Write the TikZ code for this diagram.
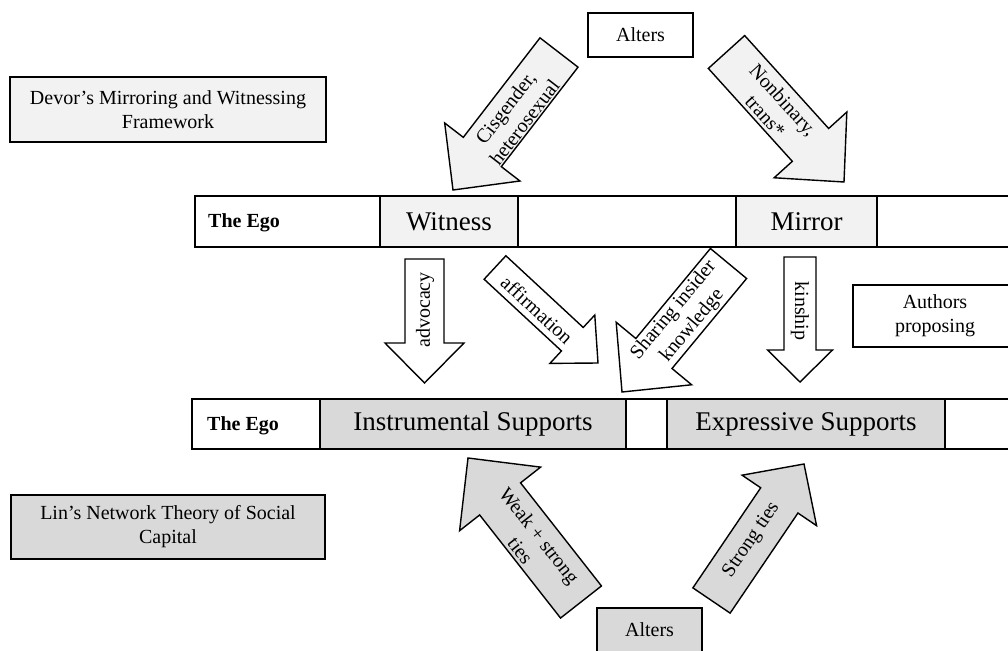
\documentclass[tikz,border=0pt]{standalone}
\usepackage{fontspec}
\setmainfont{Liberation Serif}
\usetikzlibrary{calc}
\definecolor{lightfill}{HTML}{F2F2F2}
\definecolor{midfill}{HTML}{D9D9D9}
\newcommand\txtS{\fontsize{20}{24}\selectfont}
\newcommand\txtL{\fontsize{27}{32}\selectfont}
% #1 name, #2 style, #3 tail, #4 tip, #5 shaft half width, #6 head half width, #7 head length
\newcommand\blockarr[7]{%
  \coordinate (#1-t) at #3;
  \coordinate (#1-p) at #4;
  \coordinate (#1-b) at ($(#1-p)!#7!(#1-t)$);
  \draw[#2] ($(#1-t)!#5!90:(#1-p)$) -- ($(#1-b)!#5!90:(#1-p)$) -- ($(#1-b)!#6!90:(#1-p)$) -- (#1-p)
     -- ($(#1-b)!#6!-90:(#1-p)$) -- ($(#1-b)!#5!-90:(#1-p)$) -- ($(#1-t)!#5!-90:(#1-p)$) -- cycle;
}
\begin{document}
\begin{tikzpicture}[x=1pt,y=-1pt,
  box/.style={draw, line width=1.4pt, inner sep=0pt, align=center, font=\txtS},
  bigbox/.style={box, font=\txtL},
  arr/.style={draw, line width=1.4pt, line join=miter},
  albl/.style={font=\txtS, align=center, inner sep=0pt},
  egotext/.style={font=\txtS\bfseries, inner sep=0pt, anchor=west}]
\useasboundingbox (0,0) rectangle (1008,650);

% framework labels
\node[box, fill=lightfill, minimum width=316pt, minimum height=65pt] (devor) at (168,109.5)
  {Devor’s Mirroring and Witnessing\\Framework};
\node[box, fill=midfill, minimum width=314pt, minimum height=64pt] (lin) at (168,527)
  {Lin’s Network Theory of Social\\Capital};
\node[box, fill=white, minimum width=164pt, minimum height=62pt] (authors) at (935,316)
  {Authors\\proposing};

% alters
\node[box, fill=white, minimum width=105pt, minimum height=44pt] (altersTop) at (640.5,35) {Alters};
\node[box, fill=midfill, minimum width=105pt, minimum height=44pt] (altersBot) at (649.5,630) {Alters};

% top ego bar
\node[box, fill=white, minimum width=830pt, minimum height=51pt] (bar1) at (610,221.5) {};
\node[egotext] (ego1) at (208,223) {The Ego};
\node[bigbox, fill=lightfill, minimum width=138pt, minimum height=51pt] (witness) at (449,221.5) {Witness};
\node[bigbox, fill=lightfill, minimum width=141pt, minimum height=51pt] (mirror) at (806.5,221.5) {Mirror};

% bottom ego bar
\node[box, fill=white, minimum width=833pt, minimum height=50pt] (bar2) at (608.5,424) {};
\node[egotext] (ego2) at (207,426) {The Ego};
\node[bigbox, fill=midfill, minimum width=306pt, minimum height=50pt] (instr) at (473,424) {Instrumental Supports};
\node[bigbox, fill=midfill, minimum width=278pt, minimum height=50pt] (expr) at (806,424) {Expressive Supports};

% arrows from top alters
\blockarr{cis}{arr, fill=lightfill}{(559,52.5)}{(453,190)}{24pt}{47.5pt}{48pt}
\node[albl, rotate=52.4] (cisL) at (515,115) {Cisgender,\\heterosexual};
\blockarr{nonb}{arr, fill=lightfill}{(726.5,52)}{(844,182)}{24.5pt}{49pt}{50pt}
\node[albl, rotate=-47.9] (nonbL) at (774.5,108) {Nonbinary,\\trans*};

% middle arrows
\blockarr{adv}{arr, fill=white}{(424.5,259)}{(424.5,383)}{19.5pt}{39.5pt}{40pt}
\node[albl, rotate=90] (advL) at (425,310) {advocacy};
\blockarr{aff}{arr, fill=white}{(495,267.5)}{(598,363)}{16pt}{33pt}{35pt}
\node[albl, rotate=-42.8] (affL) at (537,310) {affirmation};
\blockarr{share}{arr, fill=white}{(728.5,263.5)}{(622,392)}{23.5pt}{49pt}{50pt}
\node[albl, rotate=50.3] (shareL) at (683,318) {Sharing insider\\knowledge};
\blockarr{kin}{arr, fill=white}{(800,257)}{(800,382)}{16pt}{32.5pt}{32pt}
\node[albl, rotate=-90] (kinL) at (800,311) {kinship};

% arrows from bottom alters
\blockarr{weak}{arr, fill=midfill}{(581,602)}{(468,458)}{26pt}{51.5pt}{52pt}
\node[albl, rotate=-51.9] (weakL) at (530,543) {Weak + strong\\ties};
\blockarr{strong}{arr, fill=midfill}{(711.5,600.5)}{(804,464)}{22.5pt}{45pt}{44pt}
\node[albl, rotate=55.9] (strongL) at (751.5,540) {Strong ties};
\end{tikzpicture}
\end{document}
